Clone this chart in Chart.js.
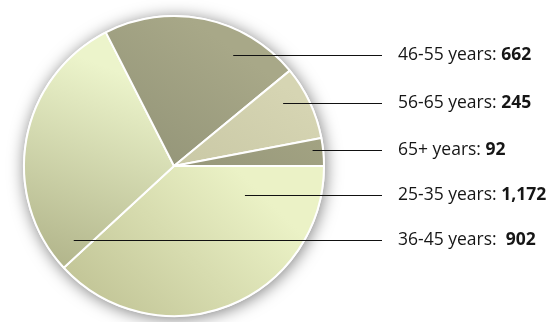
<!DOCTYPE html>
<html>
<head>
<meta charset="utf-8">
<script src="https://cdn.jsdelivr.net/npm/chart.js@4"></script>
<style>
  html,body{margin:0;padding:0;background:#fff;}
  #wrap{width:553px;height:322px;position:relative;}
</style>
</head>
<body>
<div id="wrap"><canvas id="c" width="553" height="322"></canvas></div>
<script>
// ---- data ----
const categories = ['25-35 years', '36-45 years', '46-55 years', '56-65 years', '65+ years'];
const counts = [1172, 902, 662, 245, 92];
const separators = [': ', ':  ', ': ', ': ', ': '];

// ---- style (gradient stops per slice: [light, dark]) ----
const sliceGradients = [
  ['#ebf2c6', '#c3c698'],
  ['#ecf4cb', '#b0b389'],
  ['#a8a888', '#96977a'],
  ['#d6d5b3', '#c9c8a5'],
  ['#a5a584', '#96977a']
];
// leader anchor: fraction along slice angle, fraction of radius
const leaderAnchors = [
  [0.16, 0.51], [0.06, 0.83], [0.71, 0.84], [0.33, 0.84], [0.39, 0.93]
];

function sliceFill(context) {
  const chart = context.chart;
  const area = chart.chartArea;
  const i = context.dataIndex;
  const g = sliceGradients[i];
  if (!area) return g[0];
  const c = chart.ctx;
  const cx = (area.left + area.right) / 2, cy = (area.top + area.bottom) / 2;
  const r = Math.min(area.width, area.height) / 2;
  let grad;
  if (i === 0) {
    grad = c.createLinearGradient(cx + r * 0.5, cy + r * 0.1, cx - r * 0.4, cy + r);
  } else if (i === 1) {
    grad = c.createLinearGradient(cx - r * 0.3, cy - r * 0.6, cx - r * 0.8, cy + r * 0.7);
  } else {
    grad = c.createLinearGradient(cx + r * 0.5, cy - r * 0.7, cx, cy);
  }
  grad.addColorStop(0, g[0]);
  grad.addColorStop(1, g[1]);
  return grad;
}

const shadowPlugin = {
  id: 'pieShadow',
  beforeDatasetsDraw(chart) {
    const arc = chart.getDatasetMeta(0).data[0];
    if (!arc) return;
    const ctx = chart.ctx;
    ctx.save();
    ctx.shadowColor = 'rgba(0,0,0,0.5)';
    ctx.shadowBlur = 16;
    ctx.shadowOffsetX = 1;
    ctx.shadowOffsetY = 2;
    ctx.fillStyle = '#ffffff';
    ctx.beginPath();
    ctx.arc(arc.x, arc.y, arc.outerRadius + 1, 0, Math.PI * 2);
    ctx.fill();
    ctx.restore();
  }
};

const leaderPlugin = {
  id: 'leaders',
  afterDatasetsDraw(chart) {
    const ctx = chart.ctx;
    const meta = chart.getDatasetMeta(0);
    const lineEnd = chart.chartArea.right + 57;
    const textX = lineEnd + 16;
    meta.data.forEach((arc, i) => {
      const [fa, fr] = leaderAnchors[i];
      const ang = arc.startAngle + fa * (arc.endAngle - arc.startAngle);
      const px = arc.x + Math.cos(ang) * arc.outerRadius * fr;
      const py = Math.round(arc.y + Math.sin(ang) * arc.outerRadius * fr) + 0.5;
      ctx.save();
      ctx.strokeStyle = '#111';
      ctx.lineWidth = 1.2;
      ctx.beginPath();
      ctx.moveTo(px, py);
      ctx.lineTo(lineEnd, py);
      ctx.stroke();
      ctx.textBaseline = 'middle';
      ctx.fillStyle = '#161616';
      const label = categories[i] + separators[i];
      ctx.font = '17.5px "Open Sans"';
      ctx.fillText(label, textX, py);
      const w = ctx.measureText(label).width;
      ctx.font = 'bold 17.5px "Open Sans"';
      ctx.fillText(counts[i].toLocaleString('en-US'), textX + w, py);
      ctx.restore();
    });
  }
};

new Chart(document.getElementById('c'), {
  type: 'pie',
  data: {
    labels: categories,
    datasets: [{
      data: counts,
      backgroundColor: sliceFill,
      borderColor: '#ffffff',
      borderWidth: 2,
      hoverOffset: 0
    }]
  },
  options: {
    responsive: false,
    animation: false,
    events: [],
    rotation: 90,
    layout: { padding: { left: 23, top: 15, bottom: 5, right: 228 } },
    plugins: { legend: { display: false }, tooltip: { enabled: false } }
  },
  plugins: [shadowPlugin, leaderPlugin]
});
</script>
</body>
</html>
